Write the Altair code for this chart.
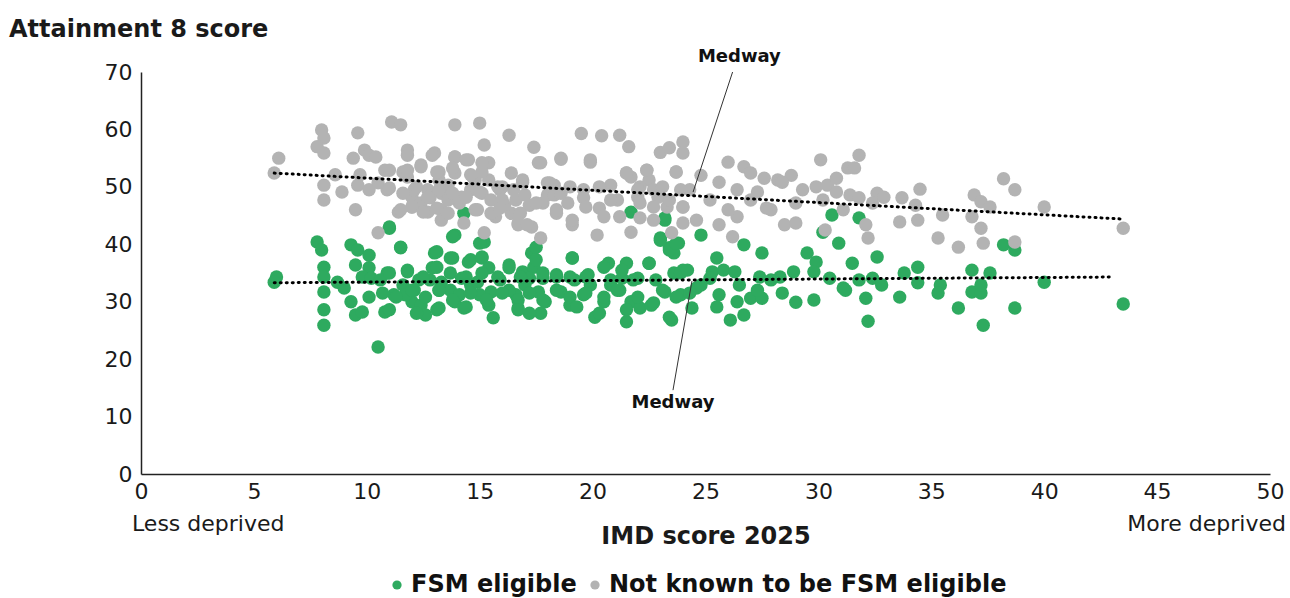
import altair as alt
import pandas as pd

# ---- data ----
gray_x = [6.1, 5.9, 8.0, 8.1, 7.8, 8.1, 8.6, 8.1, 8.1, 8.9, 9.6, 9.4, 9.9, 10.1, 9.7, 9.6, 10.1, 9.5,
          11.1, 11.5, 10.8, 10.9, 11.8, 11.8, 11.4, 10.5, 11.6, 12.4, 13.0, 13.9, 13.2, 12.0, 12.4, 12.0,
          12.7, 13.3, 13.3, 13.9, 15.0, 15.2, 16.3, 14.5, 15.4, 13.9, 14.7, 15.4, 14.2, 15.1, 14.8, 16.0,
          16.4, 16.9, 17.4, 17.6, 18.0, 17.8, 16.4, 15.7, 15.2, 16.7, 17.3, 17.7, 14.3, 13.3, 12.7,
          12.1, 12.8, 13.6, 14.1, 14.6, 15.5, 15.9, 16.6, 17.0, 17.2, 18.0, 18.3, 13.6, 13.2, 14.8, 16.1, 16.8,
          19.5, 20.4, 21.2, 21.6, 18.6, 19.9, 23.0, 23.4, 24.0, 24.0, 21.5, 22.4, 23.7, 22.5, 24.8, 26.0,
          26.7, 27.0, 27.6, 28.2, 28.8, 30.1, 30.4, 30.8, 31.3,
          18.4, 19.1, 20.2, 21.7, 22.1, 22.7, 23.5, 24.0, 24.6, 25.6, 26.2, 26.4, 27.9, 28.5, 29.0, 30.3,
          18.3, 18.9, 19.6, 20.3, 20.8, 21.1, 22.0, 22.1, 22.9, 23.3, 24.0, 24.3, 25.2, 25.6, 26.0, 26.4,
          27.0, 27.3, 27.7, 28.4, 29.0, 29.3, 29.9, 30.2, 30.8, 31.1,
          31.8, 31.6, 31.4, 31.8, 32.6, 32.9, 32.4, 32.1, 32.2, 34.5, 33.7, 34.3, 33.6, 34.4, 35.5, 35.3,
          36.2, 36.9, 37.2, 37.6, 36.8, 37.2, 37.3, 38.2, 38.7, 40.0, 38.7, 43.5,
          10.4, 11.8, 12.9, 13.9, 14.4, 15.1, 11.0, 11.8, 12.4, 13.1, 13.8, 14.6, 15.1, 10.5, 11.0, 11.6,
          12.2, 12.7, 13.2, 13.8, 14.4, 15.0, 15.8, 16.0, 16.5, 16.9, 11.5, 12.0, 12.5, 13.1, 13.6, 14.9,
          15.5, 15.9, 16.7, 17.1, 17.5, 17.7, 18.1, 18.6, 18.4, 19.0, 19.1, 19.6, 19.7, 20.3, 20.8, 20.5,
          21.2, 21.7, 22.0, 22.1, 22.7, 22.7, 23.1, 23.4, 23.9, 24.0, 19.9, 18.6, 21.5, 22.4, 23.7]
gray_y = [55.0, 52.4, 59.9, 58.5, 57.0, 55.9, 52.1, 50.3, 47.7, 49.1, 59.4, 55.0, 56.4, 55.5, 52.1, 50.3, 49.5, 46.0,
          61.3, 60.8, 52.9, 49.5, 56.4, 51.7, 45.6, 42.0, 52.6, 53.8, 55.9, 55.2, 52.6, 48.2, 47.2, 46.5,
          49.5, 48.9, 46.0, 60.8, 61.1, 57.3, 59.0, 54.7, 54.2, 52.4, 51.7, 51.2, 48.2, 48.9, 46.0, 50.0,
          52.4, 51.2, 56.9, 54.2, 50.7, 47.2, 45.4, 44.8, 42.0, 43.4, 43.0, 41.1, 43.7, 44.2, 45.6,
          49.5, 48.1, 50.3, 47.2, 49.5, 47.7, 49.5, 47.7, 48.6, 46.8, 48.6, 50.3, 47.7, 51.2, 51.2, 46.8, 45.4,
          59.3, 58.9, 59.0, 57.0, 54.8, 54.3, 56.0, 56.8, 57.8, 55.9, 52.4, 52.9, 52.6, 51.2, 52.0, 54.3,
          53.5, 52.4, 51.5, 51.2, 52.0, 54.7, 50.3, 51.5, 53.3,
          45.4, 43.4, 41.6, 42.1, 44.6, 44.2, 42.0, 43.7, 44.2, 43.4, 41.3, 44.8, 46.0, 43.4, 43.7, 42.5,
          48.6, 47.2, 48.1, 46.3, 50.3, 47.7, 48.2, 50.0, 48.2, 46.5, 46.5, 49.5, 47.7, 50.8, 46.0, 49.5,
          47.7, 49.1, 46.3, 50.8, 47.2, 49.5, 50.0, 47.7, 49.1, 46.0,
          55.5, 53.3, 48.6, 48.1, 48.9, 48.2, 47.2, 43.4, 41.1, 49.6, 48.1, 46.8, 43.9, 44.2, 45.1, 41.1,
          39.5, 48.6, 47.4, 46.5, 44.8, 42.8, 40.2, 51.4, 49.5, 46.5, 40.4, 42.8,
          55.2, 55.5, 55.5, 55.2, 54.7, 54.2, 52.9, 52.9, 53.5, 52.6, 53.3, 52.1, 52.6, 50.7, 49.8, 48.9,
          50.0, 48.2, 49.5, 48.9, 48.2, 49.1, 50.0, 47.7, 49.5, 50.8, 46.0, 46.5, 45.6, 46.3, 45.4, 46.0,
          45.4, 46.3, 43.7, 43.4, 47.2, 54.2, 50.7, 48.9, 46.0, 50.0, 44.2, 49.5, 46.5, 50.0, 47.7, 44.8,
          44.8, 51.7, 49.5, 47.2, 49.5, 46.5, 50.0, 47.7, 49.5, 46.5, 54.7, 55.0, 52.4, 52.9, 52.6]

green_x = [6.0, 5.9, 7.8, 8.0, 8.1, 8.1, 8.1, 8.1, 8.1, 8.7, 9.0, 9.3, 9.6, 10.1, 9.5, 10.1, 9.8, 10.2,
           10.1, 9.3, 9.5, 9.8, 10.5, 11.0, 11.5, 10.9, 10.8, 11.2, 11.6, 11.8, 12.1, 12.0, 12.4, 12.6,
           13.0, 12.9, 13.3, 13.2, 13.9, 13.8, 14.3, 14.5, 14.2, 13.9, 14.3, 15.2, 15.1, 15.4, 14.9, 15.5,
           15.4, 15.6, 16.3, 16.9, 16.6, 16.7, 17.3, 17.4, 17.8, 17.6, 17.7, 17.9,
           12.8, 13.7, 14.6, 15.0, 15.9, 16.3, 17.0, 17.2, 14.1, 13.2, 12.3, 11.7,
           19.1, 18.4, 18.6, 19.0, 19.8, 19.6, 20.1, 20.7, 20.8, 20.5, 21.5, 21.3, 22.0, 21.7, 22.1, 21.5,
           22.5, 22.6, 23.2, 23.0, 23.4, 23.8, 23.6, 23.2, 23.6, 24.0, 23.9, 23.5, 24.8, 24.6, 24.4, 25.5,
           25.3, 25.8, 26.3, 25.6, 25.5, 26.1, 26.7, 26.4, 27.0, 26.7, 27.5, 27.4, 27.9, 27.5, 28.3, 28.4,
           28.9, 29.0, 29.5, 29.9, 29.8, 29.8, 30.5, 30.6, 30.2, 30.9, 31.1,
           19.9, 19.2, 21.2, 22.8, 24.8, 25.2, 26.5, 27.3, 21.7,
           31.8, 31.5, 31.2, 31.8, 32.1, 32.2, 32.6, 32.4, 32.8, 33.6, 33.8, 34.4, 34.4, 35.4, 35.3, 36.2,
           36.8, 36.8, 37.2, 37.2, 37.6, 37.3, 38.2, 38.7, 38.7, 40.0, 43.5,
           11.0, 11.5, 13.8, 13.1, 13.7, 14.6, 15.0, 15.1, 10.6, 11.0, 11.8, 12.5, 13.1, 13.7, 14.4, 15.1,
           15.8, 16.3, 16.8, 17.5, 17.5, 17.8, 18.4, 19.0, 19.1, 19.7, 20.5, 20.8, 21.3, 21.8, 22.5, 23.0,
           23.4, 23.9, 24.2, 23.7, 23.2,
           10.7, 11.3, 12.0, 12.6, 13.2, 13.8, 14.6, 15.3, 16.0, 16.7, 17.2, 17.8, 18.4, 19.0, 19.7, 20.5,
           21.1, 22.0, 22.7, 23.1, 23.7, 24.3, 11.0, 12.2, 13.1, 14.4, 16.7, 17.2, 19.3, 20.3, 21.5, 23.4]
green_y = [34.3, 33.4, 40.4, 39.0, 36.0, 34.3, 31.7, 28.6, 25.9, 33.4, 32.4, 39.9, 39.0, 38.1, 36.4, 35.9, 34.3, 34.1,
           30.8, 30.0, 27.7, 28.2, 22.1, 42.8, 39.4, 35.0, 28.2, 31.2, 32.9, 35.2, 32.0, 30.0, 29.4, 27.7,
           38.5, 35.9, 33.4, 28.9, 41.6, 37.6, 45.4, 36.9, 34.1, 30.0, 28.9, 40.4, 37.6, 35.9, 33.4, 31.7,
           29.4, 27.2, 36.4, 35.2, 31.2, 28.9, 38.5, 36.0, 34.1, 31.7, 28.0, 30.0,
           33.8, 32.0, 32.9, 31.2, 33.8, 32.0, 32.9, 34.1, 31.2, 32.0, 33.8, 31.2,
           37.6, 34.7, 31.7, 29.4, 34.7, 31.2, 27.3, 36.7, 32.9, 30.0, 36.7, 34.1, 34.1, 30.0, 28.9, 26.5,
           36.7, 29.4, 44.6, 41.1, 39.4, 40.2, 38.5, 31.7, 35.0, 35.5, 31.2, 26.8, 41.6, 32.4, 28.9, 37.6,
           35.2, 35.5, 35.2, 31.2, 29.1, 26.8, 39.9, 30.0, 30.6, 27.7, 38.5, 34.3, 33.8, 30.6, 34.3, 31.5,
           35.2, 29.9, 38.5, 36.9, 35.2, 30.3, 34.1, 45.1, 42.1, 40.2, 32.4,
           32.9, 33.8, 32.0, 33.8, 32.9, 34.1, 32.9, 32.0, 45.6,
           44.6, 36.7, 32.0, 33.8, 30.6, 26.6, 37.8, 34.1, 32.9, 30.8, 35.0, 36.0, 33.3, 32.9, 31.5, 28.9,
           35.5, 31.7, 31.5, 32.9, 35.0, 25.9, 39.9, 39.0, 28.9, 33.4, 29.6,
           43.0, 39.5, 41.3, 38.7, 37.6, 37.3, 40.2, 37.8, 33.8, 35.0, 35.5, 34.3, 36.0, 35.0, 34.3, 35.0,
           34.3, 35.9, 34.3, 37.3, 39.5, 35.0, 34.3, 34.3, 37.6, 34.3, 36.0, 33.8, 35.5, 33.8, 36.7, 40.7,
           39.0, 35.0, 35.5, 40.2, 44.2,
           31.5, 30.8, 32.0, 30.8, 32.0, 30.3, 31.5, 30.3, 31.5, 30.3, 31.5, 30.3, 32.0, 30.8, 31.5, 30.8,
           32.0, 30.8, 29.8, 32.0, 30.8, 31.5, 28.6, 28.0, 28.6, 29.1, 28.6, 28.0, 29.1, 28.0, 28.6, 27.3]

# trend line end points (IMD, Attainment 8)
trend_gray_x = [5.9, 43.45]
trend_gray_y = [52.4, 44.4]
trend_green_x = [5.9, 43.1]
trend_green_y = [33.3, 34.3]

# Medway annotation: point and label positions in data units
medway_x = [24.45, 26.2, 24.4, 23.56]
medway_y = [49.1, 70.0, 33.6, 14.6]
medway_label_x = [26.5, 23.56]
medway_label_y = [72.6, 12.4]

GREEN = "#2eaa5f"
GRAY = "#b3b3b3"
FONT = "DejaVu Sans"
TXT = "#1a1a1a"
W, H = 1129, 402

pts = pd.DataFrame(
    {"imd": green_x + gray_x,
     "a8": green_y + gray_y,
     "group": ["FSM eligible"] * len(green_x) + ["Not known to be FSM eligible"] * len(gray_x)}
)

xs = alt.Scale(domain=[0, 50], nice=False, zero=True)
ys = alt.Scale(domain=[0, 70], nice=False)

points = alt.Chart(pts).mark_circle(size=180, opacity=1).encode(
    x=alt.X("imd:Q", scale=xs,
            axis=alt.Axis(values=list(range(0, 55, 5)), title="IMD score 2025", grid=False,
                          ticks=False, domainColor="#222222", domainWidth=1.5, labelFlush=False,
                          labelFontSize=22, labelColor=TXT, labelFont=FONT, labelPadding=7,
                          titleFontSize=24, titleFont=FONT, titleFontWeight="bold", titleColor=TXT,
                          titlePadding=22)),
    y=alt.Y("a8:Q", scale=ys,
            axis=alt.Axis(values=list(range(0, 80, 10)), title=None, grid=False, ticks=False,
                          domainColor="#222222", domainWidth=1.5, labelFlush=False,
                          labelFontSize=22, labelColor=TXT, labelFont=FONT, labelPadding=9)),
    color=alt.Color("group:N",
                    scale=alt.Scale(domain=["FSM eligible", "Not known to be FSM eligible"],
                                    range=[GREEN, GRAY]),
                    legend=alt.Legend(title=None, orient="none", direction="horizontal",
                                      legendX=244, legendY=501, symbolType="circle",
                                      symbolSize=85, labelFontSize=24, labelFont=FONT,
                                      labelFontWeight="bold", labelColor="#111111", labelLimit=0,
                                      columnPadding=6, symbolOffset=0, labelOffset=2)),
)

tg = pd.DataFrame({"imd": trend_gray_x, "a8": trend_gray_y})
tn = pd.DataFrame({"imd": trend_green_x, "a8": trend_green_y})
trend_style = dict(color="black", strokeWidth=3, strokeDash=[1, 5], strokeCap="round")
line_g = alt.Chart(tg).mark_line(**trend_style).encode(x=alt.X("imd:Q", scale=xs), y=alt.Y("a8:Q", scale=ys))
line_n = alt.Chart(tn).mark_line(**trend_style).encode(x=alt.X("imd:Q", scale=xs), y=alt.Y("a8:Q", scale=ys))

leaders = pd.DataFrame({"x": [medway_x[0], medway_x[2]], "y": [medway_y[0], medway_y[2]],
                        "x2": [medway_x[1], medway_x[3]], "y2": [medway_y[1], medway_y[3]]})
leader = alt.Chart(leaders).mark_rule(color="#333333", strokeWidth=1).encode(
    x=alt.X("x:Q", scale=xs), y=alt.Y("y:Q", scale=ys), x2="x2:Q", y2="y2:Q")

labels = pd.DataFrame({"x": medway_label_x, "y": medway_label_y, "t": ["Medway", "Medway"]})
lab = alt.Chart(labels).mark_text(font=FONT, fontSize=18, fontWeight="bold", color="#111111",
                                  baseline="middle", align="center").encode(
    x=alt.X("x:Q", scale=xs), y=alt.Y("y:Q", scale=ys), text="t:N")

ends = pd.DataFrame({"t": ["Less deprived", "More deprived"]})
less = alt.Chart(ends).transform_filter(alt.datum.t == "Less deprived").mark_text(
    font=FONT, fontSize=22, color=TXT, align="left", baseline="middle").encode(
    x=alt.value(-9), y=alt.value(H + 50), text="t:N")
more = alt.Chart(ends).transform_filter(alt.datum.t == "More deprived").mark_text(
    font=FONT, fontSize=22, color=TXT, align="right", baseline="middle").encode(
    x=alt.value(W + 16), y=alt.value(H + 50), text="t:N")

ytitle = alt.Chart(pd.DataFrame({"t": ["Attainment 8 score"]})).mark_text(
    font=FONT, fontSize=24, fontWeight="bold", color=TXT, align="left", baseline="middle").encode(
    x=alt.value(-132), y=alt.value(-42), text="t:N")

chart = alt.layer(points, line_g, line_n, leader, lab, less, more, ytitle).properties(
    width=W, height=H,
    autosize=alt.AutoSizeParams(type="none"),
    padding={"left": 141, "top": 72, "right": 20, "bottom": 124},
).configure_view(stroke=None)

chart.save("out.html", embed_options={"renderer": "svg", "actions": False})
